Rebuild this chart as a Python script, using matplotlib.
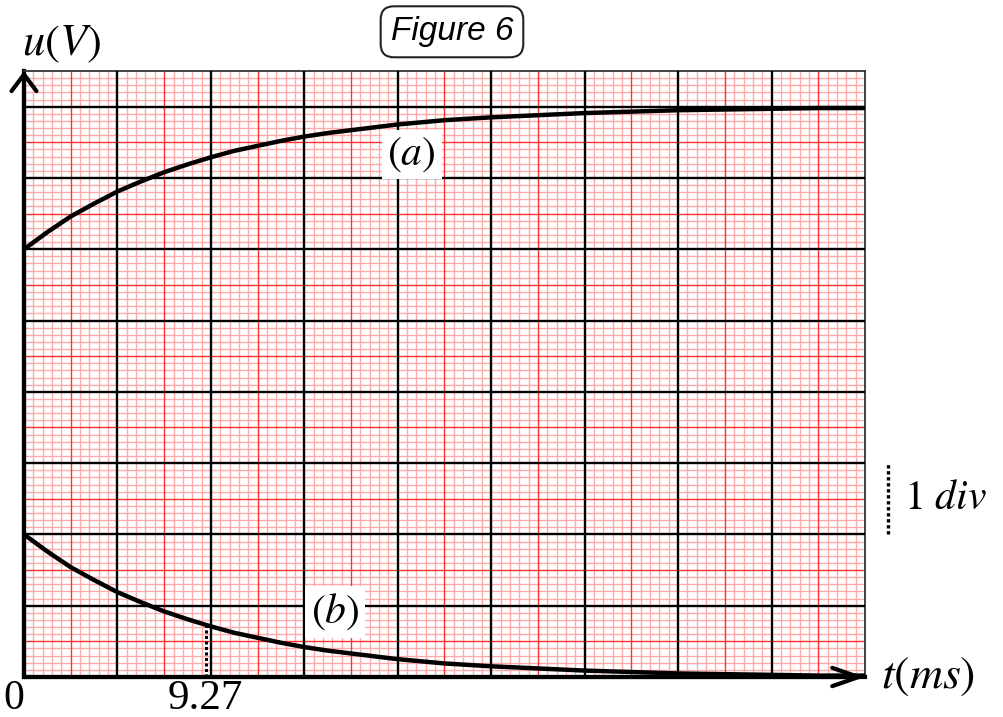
import numpy as np
import matplotlib
matplotlib.use("Agg")
import matplotlib.pyplot as plt

plt.rcParams['mathtext.fontset'] = 'stix'
plt.rcParams['font.family'] = ['Liberation Serif', 'DejaVu Serif']

# valeurs (unite = 1 division)
t_div = [0, 0.25, 0.5, 0.75, 1, 1.25, 1.5, 1.75, 2, 2.25, 2.5, 2.75, 3, 3.25,
         3.5, 3.75, 4, 4.25, 4.5, 4.75, 5, 5.5, 6, 6.5, 7, 7.5, 8, 8.5, 9]
u_a = [6.00, 6.24, 6.46, 6.64, 6.81, 6.95, 7.08, 7.19, 7.29, 7.38, 7.45, 7.52,
       7.58, 7.63, 7.67, 7.71, 7.75, 7.78, 7.81, 7.83, 7.85, 7.88, 7.91, 7.93,
       7.95, 7.96, 7.97, 7.98, 7.98]
u_b = [2.00, 1.76, 1.54, 1.36, 1.19, 1.05, 0.92, 0.81, 0.71, 0.62, 0.55, 0.48,
       0.42, 0.37, 0.33, 0.29, 0.25, 0.22, 0.19, 0.17, 0.15, 0.12, 0.09, 0.07,
       0.05, 0.04, 0.03, 0.02, 0.02]
tau_pos = 1.945        # position du tiret (div)
tau_label = "9.27"
u_b_tau = 0.73

X_MAX = 9
Y_MAX = 8.5

fig = plt.figure(figsize=(10.04, 7.17), dpi=100)
ax = fig.add_axes([24 / 1004, 40 / 717, 841 / 1004, 606 / 717])
ax.set_xlim(0, X_MAX)
ax.set_ylim(0, Y_MAX)

# papier millimetre
minor = np.round(np.arange(0, 100) * 0.1, 2)
xs_minor = [v for v in minor if v <= X_MAX and abs(v * 2 - round(v * 2)) > 1e-6]
ys_minor = [v for v in minor if v <= Y_MAX and abs(v * 2 - round(v * 2)) > 1e-6]
ax.vlines(xs_minor, 0, Y_MAX, colors='#ffaaaa', lw=1.0, zorder=1)
ax.hlines(ys_minor, 0, X_MAX, colors='#ffaaaa', lw=1.0, zorder=1)
ax.vlines(np.arange(0.5, X_MAX, 1), 0, Y_MAX, colors='#ff3030', lw=1.0, zorder=2)
ax.hlines(np.arange(0.5, Y_MAX, 1), 0, X_MAX, colors='#ff3030', lw=1.0, zorder=2)
ax.vlines(np.arange(1, X_MAX, 1), 0, Y_MAX, colors='black', lw=1.7, zorder=3)
ax.hlines(np.arange(1, Y_MAX, 1), 0, X_MAX, colors='black', lw=1.7, zorder=3)

for s in ['top', 'right']:
    ax.spines[s].set_linewidth(1.3)
    ax.spines[s].set_color('#333333')
for s in ['left', 'bottom']:
    ax.spines[s].set_linewidth(3)
ax.set_xticks([])
ax.set_yticks([])

# courbes
ax.plot(t_div, u_a, color='black', lw=3.2, zorder=5, solid_capstyle='butt')
ax.plot(t_div, u_b, color='black', lw=3.2, zorder=5, solid_capstyle='butt')
ax.vlines(tau_pos, 0, u_b_tau, colors='black', lw=2.2, linestyles=(0, (1, 0.8)), zorder=4)

# fleches des axes
ax.annotate('', xy=(1.0, 0), xytext=(0, 0), xycoords='axes fraction',
            arrowprops=dict(arrowstyle='->,head_length=0.95,head_width=0.33',
                            lw=3, color='black', mutation_scale=20, shrinkA=0, shrinkB=0),
            annotation_clip=False, zorder=6)
ax.annotate('', xy=(0, 1.0), xytext=(0, 0), xycoords='axes fraction',
            arrowprops=dict(arrowstyle='->,head_length=0.6,head_width=0.45',
                            lw=3, color='black', mutation_scale=20, shrinkA=0, shrinkB=0),
            annotation_clip=False, zorder=6)

# textes
box = dict(fc='white', ec='none', pad=4)
ax.text(4.15, 7.33, r'$(a)$', fontsize=30, ha='center', va='center', bbox=box, zorder=7)
ax.text(3.33, 0.91, r'$(b)$', fontsize=30, ha='center', va='center', bbox=box, zorder=7)
ax.text(0.4, 8.88, r'$u(V)$', fontsize=32, ha='center', va='center', clip_on=False)
ax.text(9.67, 0.0, r'$t(ms)$', fontsize=33, ha='center', va='center', clip_on=False)
ax.text(-0.11, -0.31, '0', fontsize=30, ha='center', va='center', clip_on=False)
ax.text(tau_pos, -0.31, tau_label, fontsize=31, ha='center', va='center', clip_on=False)
ax.vlines(9.25, 2, 3, colors='black', lw=2.4, linestyles=(0, (1, 0.8)), clip_on=False)
ax.text(9.42, 2.5, r'$1\ div$', fontsize=30, ha='left', va='center', clip_on=False)
ax.text(4.58, 9.05, 'Figure 6', fontsize=24, style='italic', family=['Liberation Sans'],
        ha='center', va='center', clip_on=False,
        bbox=dict(boxstyle='round,pad=0.3,rounding_size=0.4', fc='white', ec='#222222', lw=1.5))

fig.savefig('out.png', dpi=100)
